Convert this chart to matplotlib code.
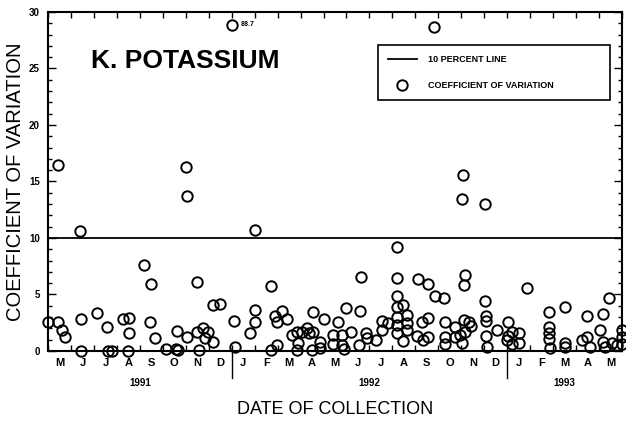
import numpy as np
import matplotlib
matplotlib.use('Agg')
import matplotlib.pyplot as plt

plt.rcParams['font.family'] = ['Liberation Sans', 'DejaVu Sans']

# months since 1991-01-01 (4.0 = start of May 1991)
months = [4.02, 4.45, 4.45, 4.6, 4.74, 5.39, 5.42, 5.42, 6.15, 6.58, 6.6, 6.77,
          7.25, 7.5, 7.54, 7.54, 8.19, 8.44, 8.47, 8.66, 9.14, 9.57, 9.6, 9.68,
          10.0, 10.04, 10.07, 10.48, 10.5, 10.58, 10.76, 10.84, 10.98, 11.2, 11.2, 11.49,
          12.0, 12.1, 12.14, 12.8, 13.02, 13.02, 13.02, 13.7, 13.71, 13.89, 13.99, 13.99,
          14.18, 14.42, 14.64, 14.83, 14.86, 14.88, 15.05, 15.27, 15.38, 15.48, 15.55, 15.55,
          15.85, 15.85, 16.02, 16.43, 16.43, 16.64, 16.79, 16.79, 16.89, 16.98, 17.18, 17.56,
          17.59, 17.62, 17.85, 17.88, 18.29, 18.53, 18.53, 18.82,
          19.21, 19.21, 19.21, 19.21, 19.21, 19.21, 19.21, 19.45, 19.48, 19.65, 19.65, 19.65,
          20.09, 20.13, 20.27, 20.35, 20.57, 20.57, 20.57, 20.81, 20.86, 21.25, 21.29, 21.29,
          21.29, 21.73, 21.73, 21.94, 22.02, 22.02, 22.06, 22.12, 22.12, 22.16, 22.16, 22.35,
          22.41, 23.03, 23.03, 23.06, 23.06, 23.06, 23.11, 23.54, 23.98,
          24.02, 24.05, 24.19, 24.19, 24.53, 24.53, 24.88, 25.83, 25.83, 25.83, 25.83, 25.86,
          26.52, 26.52, 26.52, 27.24, 27.46, 27.49, 27.61, 28.04, 28.16, 28.19, 28.26, 28.45,
          28.56, 28.78, 29.0, 29.0, 29.0]

cv = [2.6, 2.6, 16.5, 1.86, 1.2, 10.65, 2.83, 0.0, 3.4, 2.15, 0.0, 0.0,
      2.8, 0.0, 2.9, 1.57, 7.6, 2.6, 5.9, 1.18, 0.2, 0.15, 1.77, 0.1,
      16.25, 1.27, 13.75, 1.7, 6.1, 0.1, 2.0, 1.12, 1.7, 4.07, 0.82, 4.16,
      88.7, 2.65, 0.38, 1.62, 2.6, 3.63, 10.7, 0.05, 5.75, 3.1, 2.6, 0.53,
      3.54, 2.83, 1.42, 1.7, 0.1, 0.68, 1.7, 2.0, 1.57, 0.1, 1.7, 3.48,
      0.82, 0.24, 2.83, 1.42, 0.6, 2.6, 1.42, 0.53, 0.18, 3.77, 1.7, 0.53,
      3.54, 6.58, 1.57, 1.12, 0.97, 1.86, 2.68, 2.45,
      9.2, 6.43, 4.87, 3.87, 3.04, 2.3, 1.57, 0.91, 4.07, 3.19, 2.45, 1.86,
      1.33, 6.34, 2.6, 0.97, 5.93, 2.9, 1.27, 28.7, 4.87, 4.66, 2.6, 1.21,
      0.59, 2.15, 1.27, 1.42, 0.68, 13.45, 15.58, 2.74, 5.84, 6.73, 1.7, 2.6,
      2.2, 4.45, 13.0, 3.1, 2.68, 1.33, 0.38, 1.86, 0.97,
      2.6, 1.33, 1.7, 0.62, 1.57, 0.68, 5.55, 3.48, 2.1, 1.57, 1.03, 0.24,
      3.87, 0.68, 0.33, 0.97, 1.27, 3.1, 0.38, 1.86, 3.27, 0.82, 0.38, 4.66,
      0.68, 0.53, 1.86, 1.21, 0.59]

month_letters = ['M', 'J', 'J', 'A', 'S', 'O', 'N', 'D', 'J', 'F', 'M', 'A', 'M',
                 'J', 'J', 'A', 'S', 'O', 'N', 'D', 'J', 'F', 'M', 'A', 'M']
years = ['1991', '1992', '1993']
year_starts = [4, 12, 24, 29]
y_ticks = [0, 5, 10, 15, 20, 25, 30]
ten_percent = 10

months = np.array(months)
cv = np.array(cv)
top = 28.85
shown = np.minimum(cv, top)

fig = plt.figure(figsize=(6.26, 4.24), dpi=100)
ax = fig.add_axes([0.0767, 0.1722, 0.9169, 0.7995])

ax.axhline(ten_percent, color='black', lw=1.3, label='10 PERCENT LINE')
ax.plot(months, shown, 'o', mfc='none', mec='black', ms=7.5, mew=1.4,
        clip_on=False, label='COEFFICIENT OF VARIATION', zorder=3)

# off-scale value
for m, c, s in zip(months, cv, shown):
    if c > top:
        ax.text(m + 0.4, s, '%.1f' % c, fontsize=5, fontweight='bold', va='center')

ax.set_xlim(4, 29)
ax.set_ylim(0, 30)

ax.set_yticks(y_ticks)
ax.set_yticklabels([str(v) for v in y_ticks], fontsize=7, fontweight='bold')
ax.set_yticks(np.arange(0, 31, 1), minor=True)

ax.set_xticks(np.arange(4, 29) + 0.5)
ax.set_xticklabels(month_letters, fontsize=8, fontweight='bold')
ax.set_xticks(np.arange(4, 30), minor=True)

ax.tick_params(axis='x', which='major', length=0, pad=5)
ax.tick_params(axis='x', which='minor', direction='in', length=4, width=1, top=True)
ax.tick_params(axis='y', which='major', direction='in', length=6, width=1, right=True, pad=6)
ax.tick_params(axis='y', which='minor', direction='in', length=3, width=1, right=True)

for sp in ax.spines.values():
    sp.set_linewidth(1.5)

trans = ax.get_xaxis_transform()
for x in year_starts[1:-1]:
    ax.plot([x, x], [0, -0.08], color='black', lw=1, transform=trans, clip_on=False)

for i, yr in enumerate(years):
    mid = (year_starts[i] + year_starts[i + 1]) / 2
    ax.text(mid, -0.095, yr, transform=trans, ha='center', va='center',
            fontsize=7, fontweight='bold')

ax.text(0.075, 0.855, 'K. POTASSIUM', transform=ax.transAxes, fontsize=19,
        fontweight='bold', va='center', ha='left')

ax.set_xlabel('DATE OF COLLECTION', fontsize=13, labelpad=24)
ax.set_ylabel('COEFFICIENT OF VARIATION', fontsize=14.5, labelpad=3)

leg = ax.legend(loc='upper left', bbox_to_anchor=(0.575, 0.735, 0.404, 0.168),
                mode='expand', fancybox=False, edgecolor='black', framealpha=1,
                prop={'size': 6.5, 'weight': 'bold'}, handlelength=3.2,
                labelspacing=1.9, borderpad=1.1, handletextpad=1.2, borderaxespad=0)
leg.get_frame().set_linewidth(1.2)

fig.savefig('out.png', dpi=100)
